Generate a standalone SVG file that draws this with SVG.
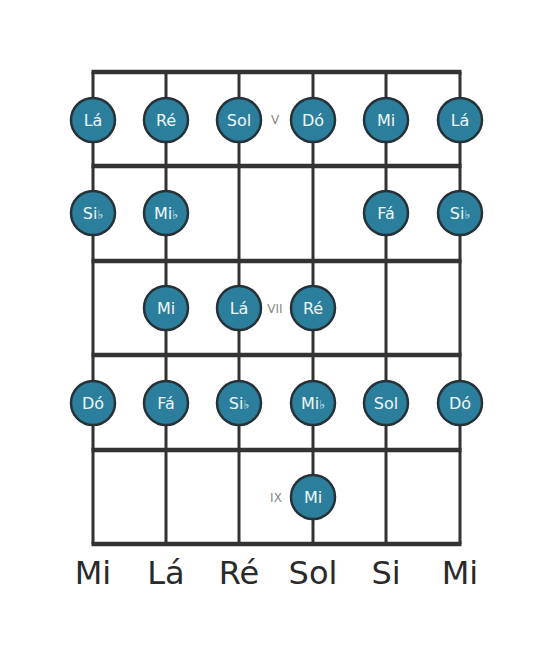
<svg xmlns="http://www.w3.org/2000/svg" width="553" height="656" viewBox="0 0 553 656">
<style>
.str{stroke:#333;stroke-width:3}
.fret{stroke:#333;stroke-width:4.5}
.n circle{fill:#2b7f9c;stroke:#263238;stroke-width:2.5}
.n text{fill:#eef6f9;font-family:"DejaVu Sans",sans-serif;font-size:16px;text-anchor:middle}
.fl{font-size:12px}
.fn{fill:#888;font-family:"DejaVu Sans",sans-serif;font-size:12px;text-anchor:middle}
.lab{fill:#2a2a2a;font-family:"DejaVu Sans",sans-serif;font-size:32px;text-anchor:middle}
</style>
<rect width="553" height="656" fill="#fff"/>
<g id="connectors">
<line class="str" x1="93" y1="72" x2="93" y2="544"/>
<line class="str" x1="166" y1="72" x2="166" y2="544"/>
<line class="str" x1="239" y1="72" x2="239" y2="544"/>
<line class="str" x1="313" y1="72" x2="313" y2="544"/>
<line class="str" x1="386" y1="72" x2="386" y2="544"/>
<line class="str" x1="460" y1="72" x2="460" y2="544"/>
<line class="fret" x1="91.5" y1="72" x2="461.5" y2="72"/>
<line class="fret" x1="91.5" y1="166" x2="461.5" y2="166"/>
<line class="fret" x1="91.5" y1="261" x2="461.5" y2="261"/>
<line class="fret" x1="91.5" y1="355" x2="461.5" y2="355"/>
<line class="fret" x1="91.5" y1="450" x2="461.5" y2="450"/>
<line class="fret" x1="91.5" y1="544" x2="461.5" y2="544"/>
</g>
<g id="fret-numbers">
<text class="fn" x="275" y="124">V</text>
<text class="fn" x="275" y="313">VII</text>
<text class="fn" x="276" y="502">IX</text>
</g>
<g id="n1" class="n"><circle cx="93" cy="120" r="22"/><text x="93" y="126">Lá</text></g>
<g id="n2" class="n"><circle cx="166" cy="120" r="22"/><text x="166" y="126">Ré</text></g>
<g id="n3" class="n"><circle cx="239" cy="120" r="22"/><text x="239" y="126">Sol</text></g>
<g id="n4" class="n"><circle cx="313" cy="120" r="22"/><text x="313" y="126">Dó</text></g>
<g id="n5" class="n"><circle cx="386" cy="120" r="22"/><text x="386" y="126">Mi</text></g>
<g id="n6" class="n"><circle cx="460" cy="120" r="22"/><text x="460" y="126">Lá</text></g>
<g id="n7" class="n"><circle cx="93" cy="213" r="22"/><text x="93" y="219">Si<tspan class="fl">♭</tspan></text></g>
<g id="n8" class="n"><circle cx="166" cy="213" r="22"/><text x="166" y="219">Mi<tspan class="fl">♭</tspan></text></g>
<g id="n9" class="n"><circle cx="386" cy="213" r="22"/><text x="386" y="219">Fá</text></g>
<g id="n10" class="n"><circle cx="460" cy="213" r="22"/><text x="460" y="219">Si<tspan class="fl">♭</tspan></text></g>
<g id="n11" class="n"><circle cx="166" cy="308" r="22"/><text x="166" y="314">Mi</text></g>
<g id="n12" class="n"><circle cx="239" cy="308" r="22"/><text x="239" y="314">Lá</text></g>
<g id="n13" class="n"><circle cx="313" cy="308" r="22"/><text x="313" y="314">Ré</text></g>
<g id="n14" class="n"><circle cx="93" cy="403" r="22"/><text x="93" y="409">Dó</text></g>
<g id="n15" class="n"><circle cx="166" cy="403" r="22"/><text x="166" y="409">Fá</text></g>
<g id="n16" class="n"><circle cx="239" cy="403" r="22"/><text x="239" y="409">Si<tspan class="fl">♭</tspan></text></g>
<g id="n17" class="n"><circle cx="313" cy="403" r="22"/><text x="313" y="409">Mi<tspan class="fl">♭</tspan></text></g>
<g id="n18" class="n"><circle cx="386" cy="403" r="22"/><text x="386" y="409">Sol</text></g>
<g id="n19" class="n"><circle cx="460" cy="403" r="22"/><text x="460" y="409">Dó</text></g>
<g id="n20" class="n"><circle cx="313" cy="497" r="22"/><text x="313" y="503">Mi</text></g>
<g id="labels">
<text class="lab" x="93" y="584">Mi</text>
<text class="lab" x="166" y="584">Lá</text>
<text class="lab" x="239" y="584">Ré</text>
<text class="lab" x="313" y="584">Sol</text>
<text class="lab" x="386" y="584">Si</text>
<text class="lab" x="460" y="584">Mi</text>
</g>
</svg>
